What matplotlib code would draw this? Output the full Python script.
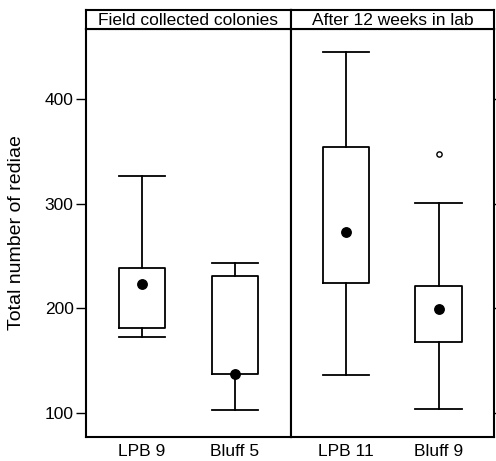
import numpy as np
import matplotlib as mpl
import matplotlib.pyplot as plt

mpl.rcParams['font.family'] = ['Liberation Sans', 'DejaVu Sans']

# panel titles
panels = ["Field collected colonies", "After 12 weeks in lab"]
# groups in each panel
groups = [["LPB 9", "Bluff 5"], ["LPB 11", "Bluff 9"]]
# five-number summaries
whislo = [[173, 103], [136, 104]]
q1 = [[181, 137], [224, 168]]
med = [[223, 137], [273, 199]]
q3 = [[239, 231], [354, 221]]
whishi = [[326, 243], [445, 301]]
fliers = [[[], []], [[], [347]]]

W, H = 496, 461
fig = plt.figure(figsize=(W / 100, H / 100), dpi=100)

x0, xm, x1 = 86, 290.7, 494
ytop, ybot, stop = 28.7, 437.3, 10.3
lw = 1.3

for i in range(2):
    left = [x0, xm][i]
    right = [xm, x1][i]
    ax = fig.add_axes([left / W, (H - ybot) / H, (right - left) / W, (ybot - ytop) / H])
    stats = []
    for j in range(2):
        stats.append(dict(whislo=whislo[i][j], q1=q1[i][j], med=med[i][j],
                          q3=q3[i][j], whishi=whishi[i][j], fliers=fliers[i][j]))
    pos = np.arange(1, 3)
    ax.bxp(stats, positions=pos, widths=0.5,
           boxprops=dict(color='black', linewidth=lw),
           whiskerprops=dict(color='black', linewidth=lw),
           capprops=dict(color='black', linewidth=lw),
           medianprops=dict(linestyle='none'),
           flierprops=dict(marker='o', markersize=3.8, markerfacecolor='white',
                           markeredgecolor='black', markeredgewidth=1.0),
           capwidths=0.5)
    ax.plot(pos, med[i], 'o', color='black', markersize=6.8, zorder=5)
    ax.set_xlim(0.4, 2.6)
    ax.set_ylim(77, 467)
    ax.set_yticks([100, 200, 300, 400])
    ax.set_xticks(pos)
    ax.set_xticklabels(groups[i], fontsize=12.5)
    ax.tick_params(axis='x', length=0, pad=5)
    for sp in ax.spines.values():
        sp.set_linewidth(1.5)
    if i == 0:
        ax.tick_params(axis='y', length=7, width=1.0, labelsize=12.5, pad=2)
    else:
        ax.yaxis.tick_right()
        ax.tick_params(axis='y', length=6, width=1.0, labelright=False)

    # strip on top
    sax = fig.add_axes([left / W, (H - ytop) / H, (right - left) / W, (ytop - stop) / H])
    sax.set_xticks([])
    sax.set_yticks([])
    for sp in sax.spines.values():
        sp.set_linewidth(1.5)
    sax.text(0.5, 0.45, panels[i], ha='center', va='center', fontsize=12.5,
             transform=sax.transAxes)

fig.text(17 / W, (H - 233) / H, "Total number of rediae", rotation=90,
         ha='center', va='center', fontsize=14)

fig.savefig("out.png", dpi=100)
